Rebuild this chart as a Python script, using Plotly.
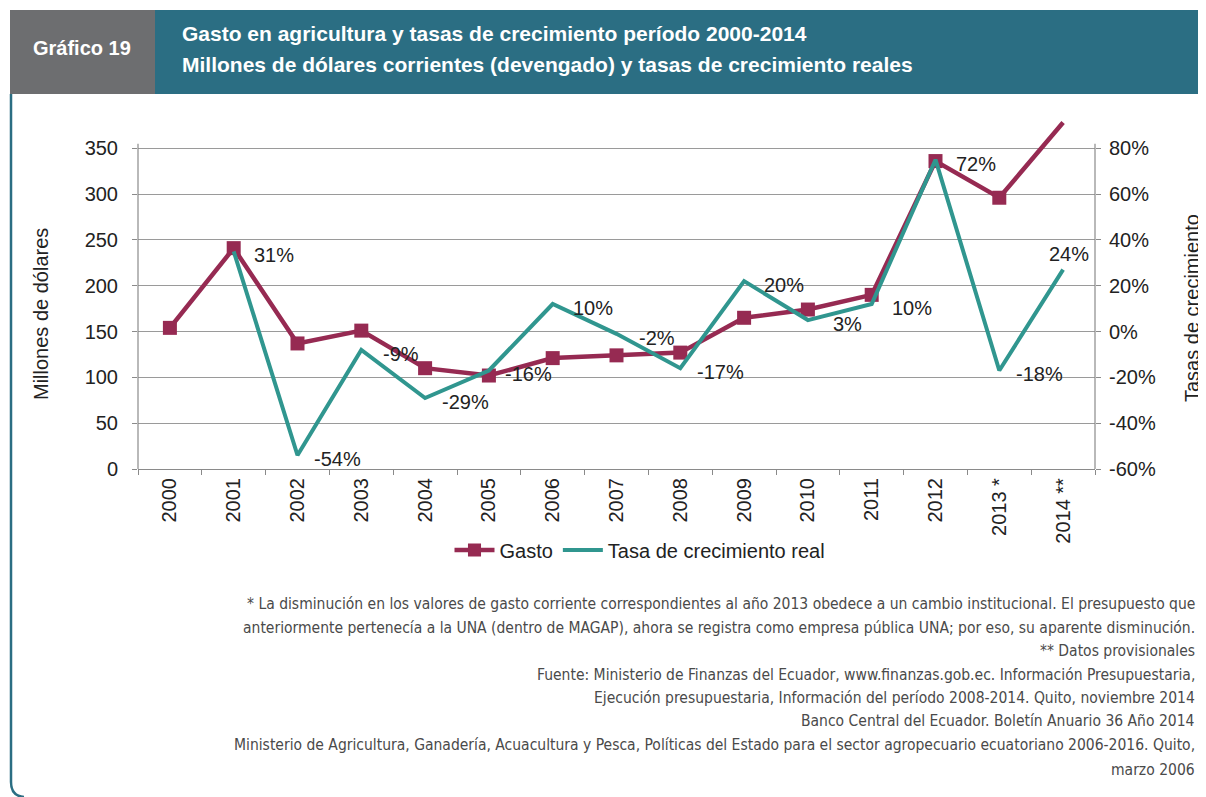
import plotly.graph_objects as go

# data
years = ["2000", "2001", "2002", "2003", "2004", "2005", "2006", "2007",
         "2008", "2009", "2010", "2011", "2012", "2013 *", "2014 **"]
gasto = [154, 241, 137, 151, 110, 102, 121, 124, 127, 165, 174, 190, 336, 296, 378]
tasa = [None, 35, -54, -8, -29, -17, 12, -1, -16, 22, 5, 12, 75, -17, 27]
tasa_labels = ["", "31%", "-54%", "-9%", "-29%", "-16%", "10%", "-2%",
               "-17%", "20%", "3%", "10%", "72%", "-18%", "24%"]

left_ticks = [0, 50, 100, 150, 200, 250, 300, 350]
right_ticks = [-60, -40, -20, 0, 20, 40, 60, 80]

notes = [
    "* La disminución en los valores de gasto corriente correspondientes al año 2013 obedece a un cambio institucional. El presupuesto que",
    "anteriormente pertenecía a la UNA (dentro de MAGAP), ahora se registra como empresa pública UNA; por eso, su aparente disminución.",
    "** Datos provisionales",
    "Fuente: Ministerio de Finanzas del Ecuador, www.finanzas.gob.ec. Información Presupuestaria,",
    "Ejecución presupuestaria, Información del período 2008-2014. Quito, noviembre 2014",
    "Banco Central del Ecuador. Boletín Anuario 36 Año 2014",
    "Ministerio de Agricultura, Ganadería, Acuacultura y Pesca, Políticas del Estado para el sector agropecuario ecuatoriano 2006-2016. Quito,",
    "marzo 2006",
]

# the page body adds an 8px margin, so the figure is drawn 8px smaller
OFF = 8
W, H = 1206 - OFF, 797 - OFF
ML, MR, MT, MB = 130, 111, 110, 328
CRIMSON = "#962a52"
TEAL = "#30968f"
HEADER = "#2b6e83"
GRAY = "#6d6e70"
FONT = "Liberation Sans, Arial, sans-serif"
NARROW = "DejaVu Sans Condensed, sans-serif"


def px(x):
    # reference-image pixel -> paper x
    return (x - OFF - ML) / (W - ML - MR)


def py(y):
    return (H - MB - (y - OFF)) / (H - MT - MB)


def note(x, y, text, size, color="#222", bold=False, angle=0, xanchor="center", family=FONT):
    fig.add_annotation(x=px(x), y=py(y), xref="paper", yref="paper",
                       xanchor=xanchor, yanchor="middle", textangle=angle,
                       text=f"<b>{text}</b>" if bold else text, showarrow=False,
                       font=dict(family=family, size=size, color=color))


fig = go.Figure()
fig.add_trace(go.Scatter(
    x=years, y=gasto, name="Gasto", mode="lines+markers",
    line=dict(color=CRIMSON, width=4.5),
    marker=dict(symbol="square", size=[14] * (len(years) - 1) + [0], color=CRIMSON,
                opacity=1, line=dict(width=0)),
))
fig.add_trace(go.Scatter(
    x=years, y=tasa, name="Tasa de crecimiento real", mode="lines",
    line=dict(color=TEAL, width=4), yaxis="y2",
))

# data labels for the growth rate (x by category index, years look numeric)
for i, (v, lab) in enumerate(zip(tasa, tasa_labels)):
    if v is None:
        continue
    last = i == len(years) - 1
    fig.add_annotation(
        x=i, y=v, yref="y2", text=lab, showarrow=False,
        xanchor="center", yanchor="middle",
        xshift=6 if last else 40, yshift=16 if last else -4,
        font=dict(family=FONT, size=20, color="#222"),
    )

# axis lines (only up to the top tick)
fig.add_shape(type="line", xref="paper", yref="y", x0=0, x1=0, y0=0, y1=355,
              line=dict(color="#8a8a8a", width=1.2))
fig.add_shape(type="line", xref="paper", yref="y", x0=1, x1=1, y0=0, y1=355,
              line=dict(color="#8a8a8a", width=1.2))

# header band
fig.add_shape(type="rect", xref="paper", yref="paper", x0=px(10), x1=px(155),
              y0=py(94), y1=py(10), fillcolor=GRAY, line_width=0, layer="below")
fig.add_shape(type="rect", xref="paper", yref="paper", x0=px(155), x1=px(1210),
              y0=py(94), y1=py(10), fillcolor=HEADER, line_width=0, layer="below")
# left frame with rounded corner
fig.add_shape(type="path", xref="paper", yref="paper",
              path=f"M {px(11)},{py(94)} L {px(11)},{py(782)} Q {px(11)},{py(796)} {px(24)},{py(797)}",
              line=dict(color=HEADER, width=2.5))

note(82, 48, "Gráfico 19", 20, "white", bold=True)
note(180, 34, "Gasto en agricultura y tasas de crecimiento período 2000-2014", 21, "white",
     bold=True, xanchor="left")
note(180, 64, "Millones de dólares corrientes (devengado) y tasas de crecimiento reales", 21,
     "white", bold=True, xanchor="left")

# axis titles
note(41, 314, "Millones de dólares", 20, angle=-90)
note(1192, 308, "Tasas de crecimiento", 20, angle=-90)

# footnotes
note_y = [604, 628, 651, 675, 698, 721, 745, 770]
for t, yy in zip(notes, note_y):
    note(1197, yy, t, 15.5, "#4a4a4a", xanchor="right", family=NARROW)

fig.update_layout(
    width=W, height=H,
    margin=dict(l=ML, r=MR, t=MT, b=MB),
    paper_bgcolor="white", plot_bgcolor="white",
    font=dict(family=FONT, size=20, color="#222"),
    showlegend=True,
    legend=dict(orientation="h", x=px(640), y=py(550), xanchor="center", yanchor="middle",
                font=dict(family=FONT, size=20, color="#222"), itemwidth=40,
                bgcolor="rgba(0,0,0,0)"),
    xaxis=dict(
        type="category", tickangle=-90, showgrid=False,
        showline=True, linecolor="#8a8a8a", linewidth=1.2,
        ticks="outside", tickson="boundaries", ticklen=5, tickcolor="#8a8a8a",
        tickfont=dict(size=20), range=[-0.5, len(years) - 0.5],
    ),
    yaxis=dict(
        range=[0, 383], tickvals=left_ticks, showgrid=True, gridcolor="#9a9a9a",
        gridwidth=1, zeroline=False, ticks="outside", ticklen=5, tickcolor="#8a8a8a",
        ticklabelstandoff=10, tickfont=dict(size=20),
    ),
    yaxis2=dict(
        range=[-60, 93.2], overlaying="y", side="right", tickvals=right_ticks,
        ticktext=[f"{v}%" for v in right_ticks], showgrid=False, zeroline=False,
        ticks="outside", ticklen=5, tickcolor="#8a8a8a", ticklabelstandoff=4,
        tickfont=dict(size=20),
    ),
)

fig.write_html("out.html")
